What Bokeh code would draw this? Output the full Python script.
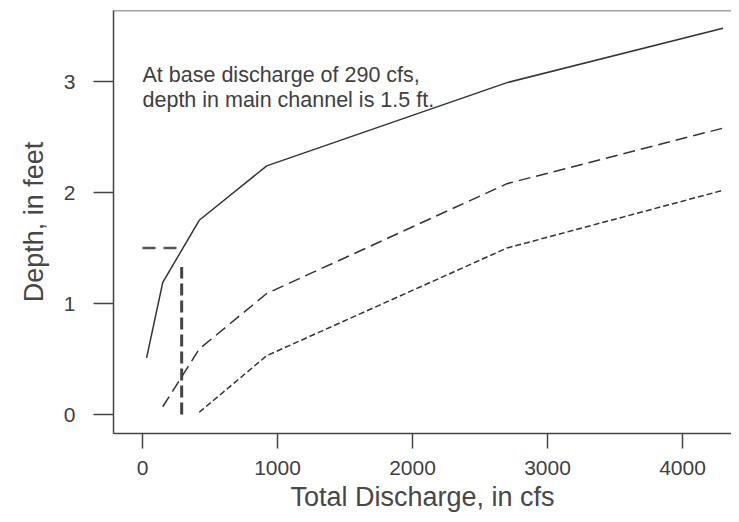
from bokeh.plotting import figure
from bokeh.models import Range1d, FixedTicker, Span, Label
from bokeh.embed import file_html
from bokeh.resources import INLINE

# ---- data ----
q_main = [30, 150, 420, 920, 2700, 4300]
depth_main = [0.51, 1.19, 1.75, 2.24, 2.99, 3.48]

q_mid = [150, 420, 920, 2700, 4300]
depth_mid = [0.07, 0.59, 1.09, 2.08, 2.58]

q_low = [420, 920, 2700, 4300]
depth_low = [0.02, 0.53, 1.50, 2.02]

base_discharge = 290
base_depth = 1.5
base_marker_top = 1.33

x_ticks = [0, 1000, 2000, 3000, 4000]
y_ticks = [0, 1, 2, 3]
note_lines = ["At base discharge of 290 cfs,", "depth in main channel is 1.5 ft."]

FONT = "Liberation Sans"
INK = "#333333"
TXT = "#404040"

p = figure(width=731, height=514, output_backend="svg", toolbar_location=None,
           x_range=Range1d(-215, 4363), y_range=Range1d(-0.171, 3.64),
           min_border_left=113, min_border_right=0, min_border_top=10, min_border_bottom=81)
p.outline_line_color = None
p.background_fill_color = "white"
p.border_fill_color = "white"
p.xgrid.visible = False
p.ygrid.visible = False

for ax, ticks, out in ((p.xaxis[0], x_ticks, 15), (p.yaxis[0], y_ticks, 20)):
    ax.ticker = FixedTicker(ticks=ticks)
    ax.minor_tick_line_color = None
    ax.major_tick_in = 0
    ax.major_tick_out = out
    ax.major_tick_line_color = "#444444"
    ax.major_tick_line_width = 1.5
    ax.axis_line_color = "#444444"
    ax.axis_line_width = 1.5
    ax.major_label_text_font = FONT
    ax.major_label_text_font_size = "21px"
    ax.major_label_text_color = TXT
    ax.axis_label_text_font = FONT
    ax.axis_label_text_font_size = "27px"
    ax.axis_label_text_font_style = "normal"
    ax.axis_label_text_color = "#474747"

p.xaxis.axis_label = "Total Discharge, in cfs"
p.yaxis.axis_label = "Depth, in feet"
p.xaxis.major_label_standoff = 12
p.xaxis.axis_label_standoff = 4
p.yaxis.major_label_standoff = 18
p.yaxis.axis_label_standoff = 12
p.yaxis.major_label_orientation = "horizontal"

# top frame line
p.add_layout(Span(location=3.64, dimension="width", line_color="#444444", line_width=1.5))

p.line(q_main, depth_main, line_color=INK, line_width=1.5)
p.line(q_mid, depth_mid, line_color=INK, line_width=1.5, line_dash="12 6")
p.line(q_low, depth_low, line_color=INK, line_width=1.5, line_dash="6 3")

p.line([0, base_discharge], [base_depth, base_depth], line_color="#555555",
       line_width=2.5, line_dash="13 8")
p.line([base_discharge, base_discharge], [0, base_marker_top], line_color="#444444",
       line_width=3, line_dash="12 5")

for txt, yv in zip(note_lines, [3.06, 2.83]):
    p.add_layout(Label(x=0, y=yv, text=txt, text_font=FONT, text_font_size="21.5px",
                       text_color=TXT, text_baseline="alphabetic"))

open("out.html", "w").write(file_html(p, INLINE))
